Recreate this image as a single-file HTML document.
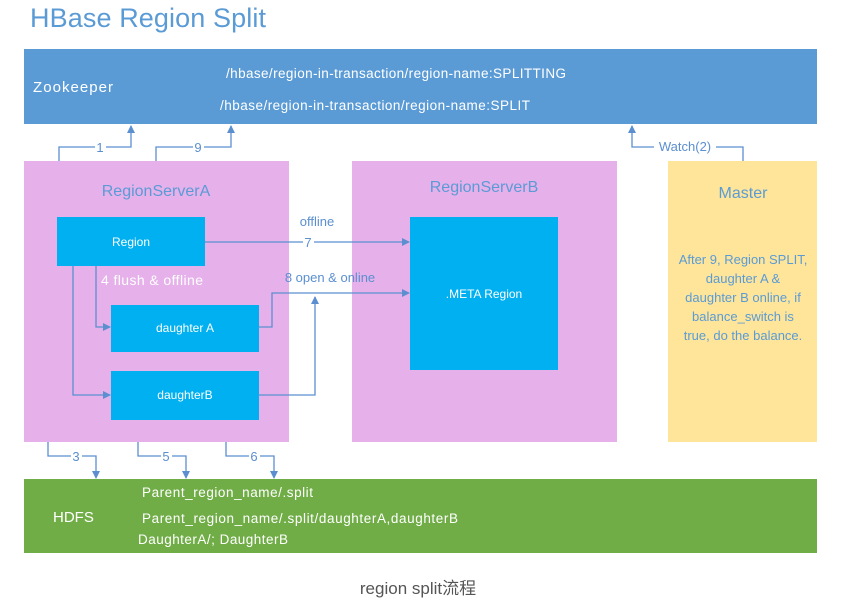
<!DOCTYPE html>
<html><head><meta charset="utf-8"><style>
body{margin:0;background:#fff}
svg{display:block;font-family:"Liberation Sans","Noto Sans CJK SC",sans-serif}
</style></head><body>
<svg width="854" height="610" viewBox="0 0 854 610">
<defs><marker id="a" markerWidth="8" markerHeight="8" refX="7" refY="4" orient="auto" markerUnits="userSpaceOnUse"><path d="M0,0 L8,4 L0,8 z" fill="#5b8fd0"/></marker></defs>
<text x="30" y="27" font-size="27" fill="#5b9bd5" textLength="236">HBase Region Split</text>
<rect x="24" y="49" width="793" height="75" fill="#5b9bd5"/>
<text x="33" y="92" font-size="15" fill="#fff" textLength="80">Zookeeper</text>
<text x="226" y="78" font-size="13.5" fill="#fff" textLength="340">/hbase/region-in-transaction/region-name:SPLITTING</text>
<text x="220" y="110" font-size="13.5" fill="#fff" textLength="310">/hbase/region-in-transaction/region-name:SPLIT</text>
<rect x="24" y="161" width="265" height="281" fill="#e6b0ea"/>
<rect x="352" y="161" width="265" height="281" fill="#e6b0ea"/>
<rect x="668" y="161" width="149" height="281" fill="#fee599"/>
<rect x="24" y="479" width="793" height="74" fill="#70ad47"/>
<text x="156" y="196" font-size="16" fill="#5b9bd5" text-anchor="middle">RegionServerA</text>
<text x="484" y="192" font-size="16" fill="#5b9bd5" text-anchor="middle">RegionServerB</text>
<text x="743" y="198" font-size="16" fill="#5b9bd5" text-anchor="middle">Master</text>
<g font-size="13" fill="#5b9bd5" text-anchor="middle">
<text x="743" y="264">After 9, Region SPLIT,</text>
<text x="743" y="283">daughter A &amp;</text>
<text x="743" y="302">daughter B online, if</text>
<text x="743" y="321">balance_switch is</text>
<text x="743" y="340">true, do the balance.</text>
</g>
<rect x="57" y="217" width="148" height="49" fill="#00b0f0"/>
<rect x="111" y="305" width="148" height="47" fill="#00b0f0"/>
<rect x="111" y="371" width="148" height="49" fill="#00b0f0"/>
<rect x="410" y="217" width="148" height="153" fill="#00b0f0"/>
<g font-size="12" fill="#fff" text-anchor="middle">
<text x="131" y="246">Region</text>
<text x="185" y="332">daughter A</text>
<text x="185" y="399">daughterB</text>
<text x="484" y="298">.META Region</text>
</g>
<text x="101" y="285" font-size="14" fill="#fff" textLength="102">4 flush &amp; offline</text>
<g fill="none" stroke="#5b8fd0" stroke-width="1.3">
<path d="M59,161 V147 H131 V126" marker-end="url(#a)"/>
<path d="M156,161 V147 H231 V126" marker-end="url(#a)"/>
<path d="M743,161 V147 H632 V126" marker-end="url(#a)"/>
<path d="M205,242 H409" marker-end="url(#a)"/>
<path d="M259,327 H272 V293 H409" marker-end="url(#a)"/>
<path d="M259,395 H315 V297" marker-end="url(#a)"/>
<path d="M96,266 V327 H110" marker-end="url(#a)"/>
<path d="M73,266 V395 H110" marker-end="url(#a)"/>
<path d="M48,442 V456 H96 V478" marker-end="url(#a)"/>
<path d="M138,442 V456 H186 V478" marker-end="url(#a)"/>
<path d="M226,442 V456 H274 V478" marker-end="url(#a)"/>
</g>
<g font-size="13" fill="#5b8fd0" text-anchor="middle">
<rect x="95" y="140" width="11" height="14" fill="#fff"/><text x="100" y="152">1</text>
<rect x="193" y="140" width="11" height="14" fill="#fff"/><text x="198" y="152">9</text>
<rect x="654" y="139" width="62" height="15" fill="#fff"/><text x="685" y="151">Watch(2)</text>
<rect x="71" y="449" width="11" height="14" fill="#fff"/><text x="76" y="461">3</text>
<rect x="161" y="449" width="11" height="14" fill="#fff"/><text x="166" y="461">5</text>
<rect x="249" y="449" width="11" height="14" fill="#fff"/><text x="254" y="461">6</text>
<rect x="303" y="235" width="11" height="14" fill="#fff"/><text x="308" y="247">7</text>
<text x="317" y="226">offline</text>
<text x="330" y="282">8 open &amp; online</text>
</g>
<text x="53" y="522" font-size="15" fill="#fff">HDFS</text>
<g font-size="13.5" fill="#fff">
<text x="142" y="497" textLength="171">Parent_region_name/.split</text>
<text x="142" y="523" textLength="316">Parent_region_name/.split/daughterA,daughterB</text>
<text x="138" y="544" textLength="150">DaughterA/; DaughterB</text>
</g>
<text x="418" y="594" font-size="17" fill="#555" text-anchor="middle">region split流程</text>
</svg>
</body></html>
